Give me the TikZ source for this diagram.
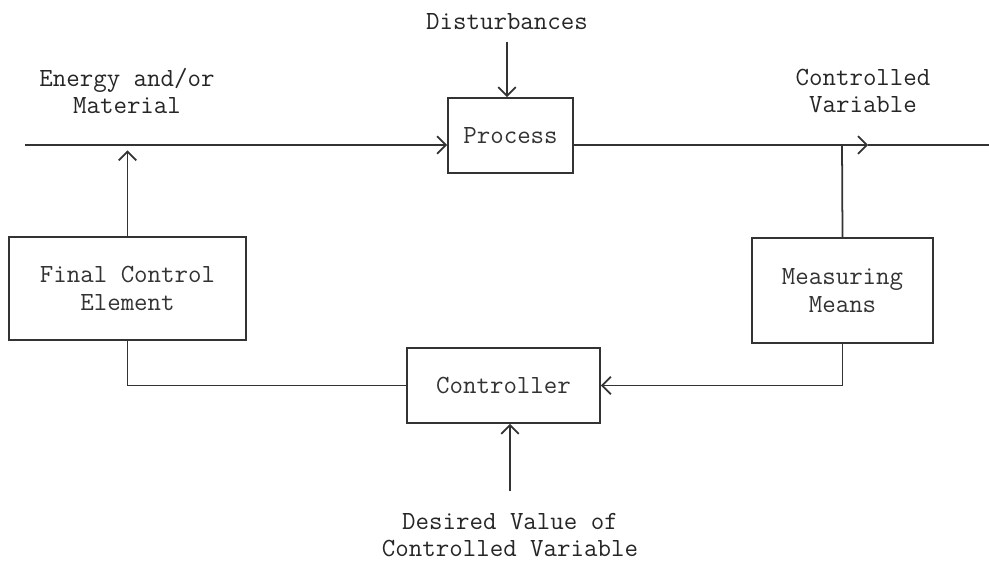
\documentclass[tikz,border=0pt]{standalone}
\usepackage{fontspec}
\usetikzlibrary{arrows.meta,positioning}
\begin{document}
\begin{tikzpicture}[x=0.02cm,y=-0.02cm,>={Straight Barb[length=5pt,width=10pt]},
	font=\ttfamily\fontsize{14.9}{15.5}\selectfont,line width=1pt,color=black!80,
	blk/.style={draw,rectangle,align=center,inner sep=0pt},
	lbl/.style={align=center,inner sep=0pt,text=black!85}]
	\useasboundingbox (0,0) rectangle (989,562);
	% blocks
	\node[blk,minimum width=2.5cm,minimum height=1.5cm] (proc) at (510.5,135.5) {Process};
	\node[blk,minimum width=4.74cm,minimum height=2.06cm] (fce) at (127.5,288.5) {Final Control\\Element};
	\node[blk,minimum width=3.62cm,minimum height=2.1cm] (mm) at (842.5,290.5) {Measuring\\Means};
	\node[blk,minimum width=3.86cm,minimum height=1.5cm] (ctrl) at (503.5,385.5) {Controller};
	% labels
	\node[lbl] (dist) at (507,22) {Disturbances};
	\node[lbl] (enrg) at (127,91) {Energy and/or\\Material};
	\node[lbl] (cvar) at (863,91) {Controlled\\Variable};
	\node[lbl] (des) at (510,535) {Desired Value of\\Controlled Variable};
	% main line
	\coordinate (in) at (25,145);
	\coordinate (tap) at (842,145);
	\coordinate (cvtip) at (868,145);
	\coordinate (out) at (989,145);
	\draw[->] (in) -- (in -| proc.west);
	\draw[->] (proc.east |- in) -- (cvtip);
	\draw (cvtip) -- (out);
	% signals
	\draw[->] ([yshift=-6pt]dist.south) -- (dist.south |- proc.north);
	\draw[->] (fce.north) -- ([yshift=-3pt]fce.north |- in);
	\draw (tap) -- (mm.north);
	\draw[->] (mm.south) |- (ctrl.east);
	\draw (fce.south) |- (ctrl.west);
	\draw[->] ([yshift=12pt]des.north) -- (des.north |- ctrl.south);
\end{tikzpicture}
\end{document}
